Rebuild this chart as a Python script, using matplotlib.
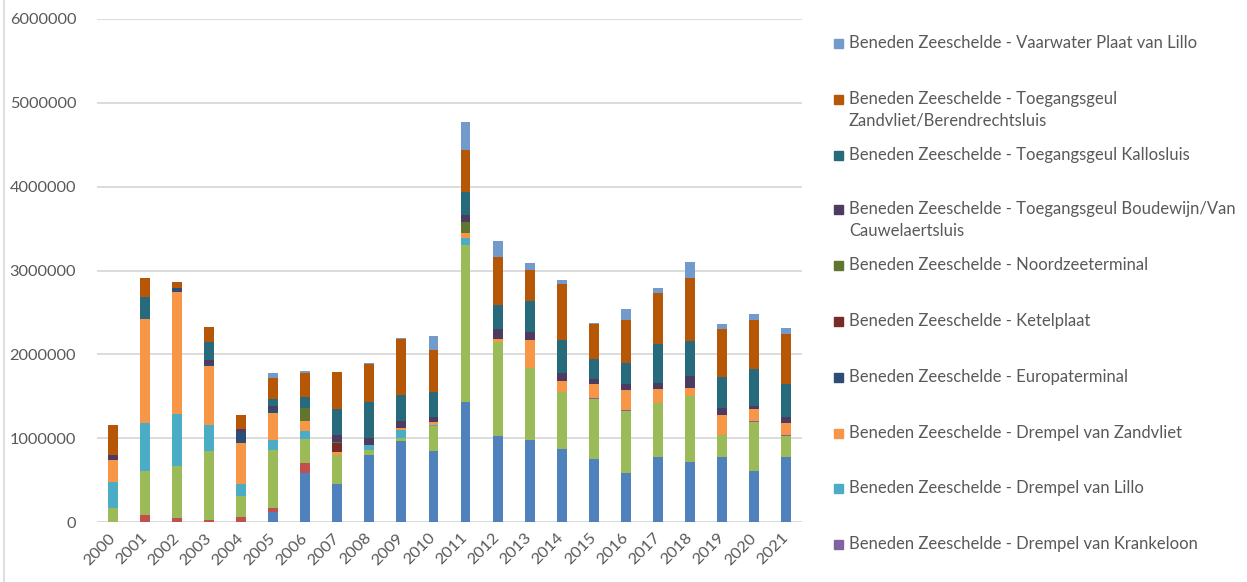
import numpy as np
import matplotlib
matplotlib.use("Agg")
import matplotlib.pyplot as plt
from matplotlib.patches import Rectangle
from matplotlib.lines import Line2D

plt.rcParams["font.family"] = ["Lato", "DejaVu Sans"]

# baggervolumes per jaar en per locatie (m3)
jaren = [str(j) for j in range(2000, 2022)]

deurganckdok = [0, 0, 0, 0, 0, 124, 588, 455, 796, 968, 844, 1428, 1026, 981, 866, 756, 579, 774, 721, 774, 614, 774]
boomke = [0, 88, 53, 22, 62, 44, 119, 0, 0, 0, 0, 0, 0, 0, 0, 0, 0, 0, 0, 0, 0, 0]
frederik = [168, 518, 619, 822, 243, 685, 283, 341, 66, 36, 305, 1874, 1127, 858, 686, 716, 747, 645, 778, 260, 584, 256]
krankeloon = [0, 0, 0, 0, 0, 0, 0, 0, 0, 0, 0, 0, 0, 0, 0, 10, 12, 0, 0, 0, 10, 8]
lillo = [309, 570, 619, 319, 150, 128, 93, 0, 53, 92, 8, 80, 0, 0, 0, 0, 0, 0, 0, 0, 0, 0]
zandvliet = [261, 1247, 1454, 698, 491, 319, 124, 40, 0, 31, 32, 71, 31, 332, 128, 163, 238, 168, 101, 244, 137, 141]
europa = [0, 0, 45, 20, 124, 53, 0, 0, 0, 0, 0, 0, 0, 0, 0, 0, 0, 0, 0, 0, 0, 0]
ketelplaat = [0, 0, 0, 0, 0, 0, 0, 101, 0, 0, 0, 0, 0, 0, 0, 0, 0, 0, 0, 0, 0, 0]
noordzee = [0, 0, 0, 0, 0, 0, 150, 22, 0, 0, 0, 123, 0, 0, 0, 0, 0, 0, 0, 0, 0, 0]
boudewijn = [58, 0, 0, 51, 40, 35, 0, 75, 84, 80, 67, 84, 124, 92, 102, 62, 75, 66, 137, 84, 36, 76]
kallo = [0, 260, 0, 217, 0, 84, 137, 310, 429, 305, 296, 275, 278, 376, 389, 239, 244, 465, 425, 367, 442, 397]
berendrecht = [367, 222, 70, 172, 163, 248, 288, 451, 455, 668, 495, 499, 579, 367, 663, 420, 512, 619, 743, 570, 588, 588]
plaat_lillo = [0, 0, 0, 0, 0, 57, 22, 0, 9, 13, 168, 341, 186, 80, 57, 13, 133, 57, 194, 66, 66, 80]

namen = [
    "Beneden Zeeschelde - Deurganckdok",
    "Beneden Zeeschelde - Drempel van Boomke",
    "Beneden Zeeschelde - Drempel van Frederik",
    "Beneden Zeeschelde - Drempel van Krankeloon",
    "Beneden Zeeschelde - Drempel van Lillo",
    "Beneden Zeeschelde - Drempel van Zandvliet",
    "Beneden Zeeschelde - Europaterminal",
    "Beneden Zeeschelde - Ketelplaat",
    "Beneden Zeeschelde - Noordzeeterminal",
    "Beneden Zeeschelde - Toegangsgeul Boudewijn/Van\nCauwelaertsluis",
    "Beneden Zeeschelde - Toegangsgeul Kallosluis",
    "Beneden Zeeschelde - Toegangsgeul\nZandvliet/Berendrechtsluis",
    "Beneden Zeeschelde - Vaarwater Plaat van Lillo",
]
reeksen = [deurganckdok, boomke, frederik, krankeloon, lillo, zandvliet, europa,
           ketelplaat, noordzee, boudewijn, kallo, berendrecht, plaat_lillo]
kleuren = ["#4F81BD", "#C0504D", "#9BBB59", "#8064A2", "#4BACC6", "#F79646",
           "#2C4D75", "#772C2A", "#5F7530", "#4D3B62", "#276A7C", "#B65708", "#729ACA"]

W, H = 1247, 582
fig = plt.figure(figsize=(W / 100, H / 100), dpi=100)
ax = fig.add_axes([97 / W, 1 - 522 / H, 705 / W, 503 / H])

x = np.arange(len(jaren))
onder = np.zeros(len(jaren))
for naam, waarden, kleur in zip(namen, reeksen, kleuren):
    v = np.array(waarden) * 1000.0
    ax.bar(x, v, 0.31, bottom=onder, color=kleur, linewidth=0, zorder=3)
    onder += v

ax.set_xlim(-0.5, len(jaren) - 0.5)
ax.set_ylim(0, 6000000)
ax.set_yticks(np.arange(0, 6000001, 1000000))
ax.set_yticklabels([f"{int(t)}" for t in ax.get_yticks()])
ax.yaxis.grid(True, color="#D9D9D9", linewidth=1.3, zorder=0)
ax.set_xticks(x)
ax.set_xticklabels(jaren, rotation=45, ha="right", va="center", rotation_mode="anchor")
for s in ax.spines.values():
    s.set_visible(False)
ax.axhline(0, color="#D9D9D9", linewidth=1.3, zorder=2)
ax.tick_params(axis="both", length=0, labelsize=11.8, colors="#595959")
ax.tick_params(axis="y", pad=15)
ax.tick_params(axis="x", pad=10)

# legenda: alleen de bovenste tien reeksen, van boven naar beneden
ylijnen = [43, 99, 155, 209, 265, 321, 377, 433, 488, 544]
for i, y in enumerate(ylijnen):
    k = len(namen) - 1 - i
    fig.patches.append(Rectangle((834 / W, 1 - (y + 5) / H), 9 / W, 9 / H,
                                 transform=fig.transFigure, color=kleuren[k], figure=fig))
    for j, regel in enumerate(namen[k].split("\n")):
        fig.text(849 / W, 1 - (y + 22 * j) / H, regel, fontsize=12,
                 color="#595959", va="center", ha="left")

fig.lines.append(Line2D([4 / W, 4 / W], [0, 1], transform=fig.transFigure,
                        color="#D9D9D9", linewidth=1.2, figure=fig))

fig.savefig("out.png", dpi=100, facecolor="white")
